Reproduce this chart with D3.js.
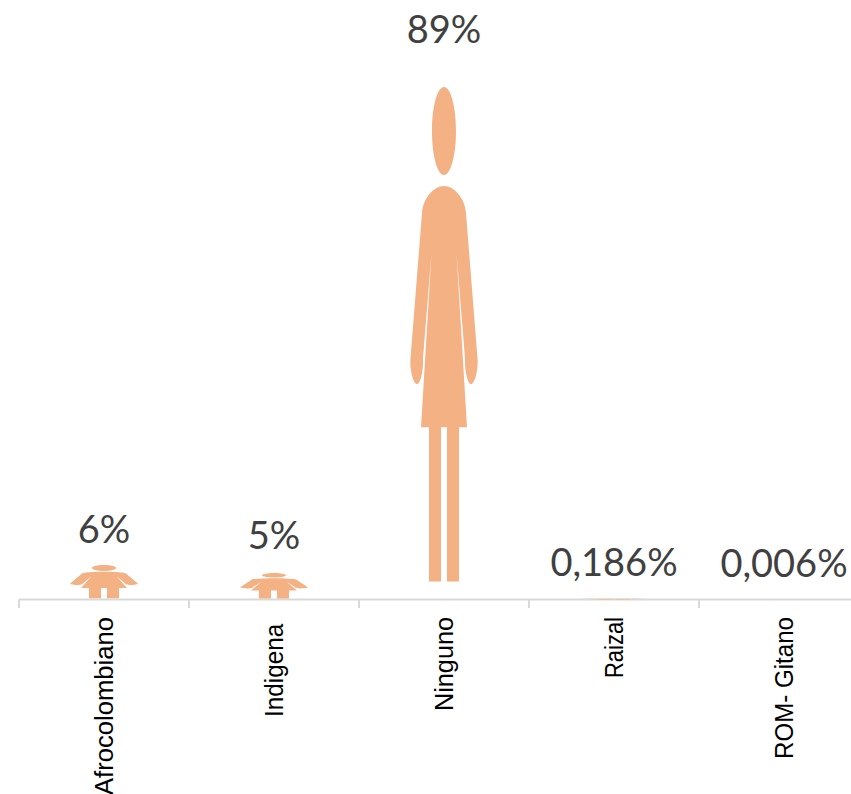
<!DOCTYPE html>
<html><head><meta charset="utf-8">
<script src="https://cdnjs.cloudflare.com/ajax/libs/d3/7.8.5/d3.min.js"></script>
<style>html,body{margin:0;padding:0;background:#fff;overflow:hidden}svg{display:block}</style>
</head><body><div id="c"></div>
<script>
const categories = ["Afrocolombiano", "Indigena\u00a0", "Ninguno", "Raizal", "ROM- Gitano"];
const values = [6.0, 4.6, 89, 0.186, 0.006];
const valueLabels = ["6%", "5%", "89%", "0,186%", "0,006%"];
const labelLift = [22, 24, 44, 22, 22];
const categoryLengths = [178, 100, 94, 61, 142];

const W = 851, H = 794, baseY = 599.5, left = 19, band = 170;
const svg = d3.select("#c").append("svg").attr("width", W).attr("height", H);

const x = d3.scaleBand().domain(categories).range([left, left + band * categories.length]);
const y = d3.scaleLinear().domain([0, 89]).range([baseY, 87]);

// Pictogram: dx in px from the band centre, v as a fraction of the mark height (0 = top)
const f = py => (py - 87) / 512;
function figurePath(cx, top, h) {
  const P = (dx, py) => [cx + dx, top + f(py) * h];
  const p = d3.path();
  const M = (a) => p.moveTo(...a), L = (a) => p.lineTo(...a);
  const C = (c1, c2, a) => p.bezierCurveTo(...c1, ...c2, ...a);
  // head
  const hk = 0.5523, hrx = 12, hry = 44, hc = 131;
  M(P(0, hc - hry));
  C(P(hrx * hk, hc - hry), P(hrx, hc - hry * hk), P(hrx, hc));
  C(P(hrx, hc + hry * hk), P(hrx * hk, hc + hry), P(0, hc + hry));
  C(P(-hrx * hk, hc + hry), P(-hrx, hc + hry * hk), P(-hrx, hc));
  C(P(-hrx, hc - hry * hk), P(-hrx * hk, hc - hry), P(0, hc - hry));
  p.closePath();
  // body, right side then left side
  M(P(0, 186));
  C(P(10, 186), P(21, 198), P(22, 213));
  L(P(33.5, 358));
  C(P(34.5, 372), P(30, 384), P(27, 384));
  C(P(24, 384), P(20.5, 372), P(21, 358));
  L(P(12.5, 253));
  L(P(23, 427));
  L(P(15, 427)); L(P(15, 581)); L(P(3, 581)); L(P(3, 427));
  L(P(-3, 427)); L(P(-3, 581)); L(P(-15, 581)); L(P(-15, 427));
  L(P(-23, 427));
  L(P(-12.5, 253));
  L(P(-21, 358));
  C(P(-20.5, 372), P(-24, 384), P(-27, 384));
  C(P(-30, 384), P(-34.5, 372), P(-33.5, 358));
  L(P(-22, 213));
  C(P(-21, 198), P(-10, 186), P(0, 186));
  p.closePath();
  return p.toString();
}

// axis
svg.append("line").attr("x1", left).attr("x2", W).attr("y1", baseY).attr("y2", baseY)
  .attr("stroke", "#d9d9d9").attr("stroke-width", 2);
const tickPos = categories.map(c => x(c));
svg.selectAll("line.t").data(tickPos).join("line").attr("class", "t")
  .attr("x1", d => d).attr("x2", d => d).attr("y1", baseY).attr("y2", 608)
  .attr("stroke", "#d9d9d9").attr("stroke-width", 2);

// marks
svg.selectAll("path.fig").data(values).join("path").attr("class", "fig")
  .attr("fill", "#f4b183").attr("fill-rule", "nonzero")
  .attr("d", (d, i) => figurePath(x(categories[i]) + band / 2, y(d), baseY - y(d)));

// value labels
svg.selectAll("text.v").data(values).join("text").attr("class", "v")
  .attr("x", (d, i) => x(categories[i]) + band / 2)
  .attr("y", (d, i) => y(d) - labelLift[i])
  .attr("text-anchor", "middle")
  .attr("font-family", "Lato, sans-serif").attr("font-size", 38).attr("fill", "#404040")
  .text((d, i) => valueLabels[i]);

// category labels
svg.selectAll("text.c").data(categories).join("text").attr("class", "c")
  .attr("transform", d => `translate(${x(d) + band / 2 + 8.5},617) rotate(-90)`)
  .attr("text-anchor", "end")
  .attr("textLength", (d, i) => categoryLengths[i]).attr("lengthAdjust", "spacingAndGlyphs")
  .attr("font-family", "'Liberation Sans', Arial, sans-serif").attr("font-size", 25).attr("fill", "#000")
  .text(d => d);
</script></body></html>
